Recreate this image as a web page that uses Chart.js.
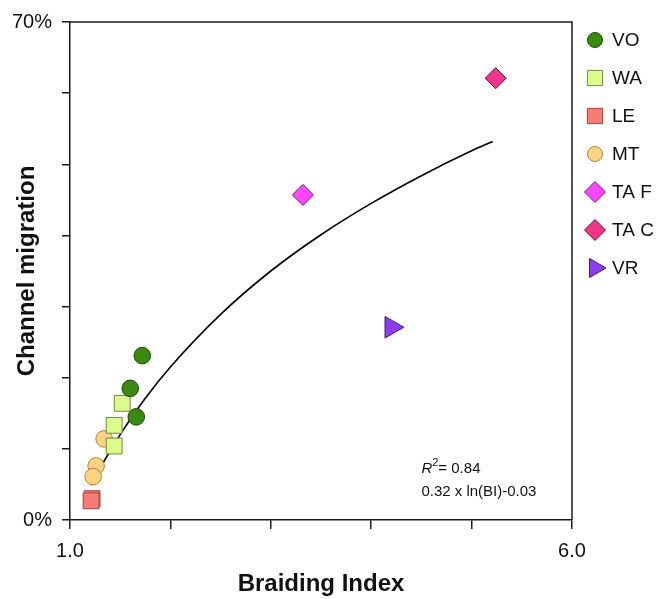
<!DOCTYPE html>
<html>
<head>
<meta charset="utf-8">
<script src="https://cdn.jsdelivr.net/npm/chart.js@4/dist/chart.umd.min.js"></script>
<style>
  html, body { margin: 0; padding: 0; background: #fff; }
  #wrap { width: 657px; height: 599px; }
</style>
</head>
<body>
<div id="wrap"><canvas id="chart" width="657" height="599"></canvas></div>
<script>
// Data (x = braiding index, y = channel migration in %)
const groups = ["VO", "WA", "LE", "MT", "TA F", "TA C", "VR"];

const voBI = [1.72, 1.60, 1.66];
const voMig = [23.1, 18.5, 14.5];
const waBI = [1.52, 1.44, 1.44];
const waMig = [16.4, 13.3, 10.4];
const leBI = [1.22, 1.21];
const leMig = [3.0, 2.7];
const mtBI = [1.34, 1.26, 1.23];
const mtMig = [11.4, 7.6, 6.1];
const tafBI = [3.32];
const tafMig = [45.7];
const tacBI = [5.24];
const tacMig = [62.1];
const vrBI = [4.2];
const vrMig = [27.1];

// fitted log curve as drawn on the reference
const trendBI = [1.21, 1.3, 1.4, 1.5, 1.75, 2.0, 2.5, 3.0, 3.5, 4.0, 4.5, 5.0, 5.21];
const trendMig = [4.9, 7.3, 9.7, 12.0, 17.1, 21.5, 28.9, 35.0, 40.1, 44.5, 48.4, 51.9, 53.2];

const xTickLabels = ["1.0", "6.0"];
const yTickLabels = ["0%", "70%"];
const fitR2 = "= 0.84";
const fitEquation = "0.32 x ln(BI)-0.03";

const FONT = "'Liberation Sans', Arial, Helvetica, sans-serif";

function pts(xs, ys) {
  return xs.map((x, i) => ({ x: x, y: ys[i] }));
}

const groupStyles = [
  { fill: "#3b8a10", border: "#1e4a06", style: "circle", r: 8.3, lr: 7.5, rot: 0 },
  { fill: "#dcfb8c", border: "#6d8a3c", style: "rect", r: 11.2, lr: 10.8, rot: 0 },
  { fill: "#f77c79", border: "#a84040", style: "rect", r: 11.2, lr: 10.8, rot: 0 },
  { fill: "#fdd281", border: "#a8843c", style: "circle", r: 8.3, lr: 7.5, rot: 0 },
  { fill: "#ff45ff", border: "#6e1c6e", style: "rectRot", r: 10.5, lr: 10.5, rot: 0 },
  { fill: "#f0358b", border: "#5e1030", style: "rectRot", r: 10.5, lr: 10.5, rot: 0 },
  { fill: "#8d3cf2", border: "#43187a", style: "triangle", r: 12.5, lr: 11, rot: 90 },
];

const groupData = [
  pts(voBI, voMig),
  pts(waBI, waMig),
  pts(leBI, leMig),
  pts(mtBI, mtMig),
  pts(tafBI, tafMig),
  pts(tacBI, tacMig),
  pts(vrBI, vrMig),
];

const datasets = groups.map((name, i) => ({
  label: name,
  data: groupData[i],
  backgroundColor: groupStyles[i].fill,
  borderColor: groupStyles[i].border,
  borderWidth: 1,
  pointStyle: groupStyles[i].style,
  pointRadius: groupStyles[i].r,
  pointHoverRadius: groupStyles[i].r,
  rotation: groupStyles[i].rot,
  order: 1,
}));

datasets.unshift({
  type: "line",
  label: "fit",
  data: pts(trendBI, trendMig),
  borderColor: "#000",
  borderWidth: 1.6,
  pointRadius: 0,
  fill: false,
  cubicInterpolationMode: "monotone",
  order: 2,
});

// frame around the plot (top and right sides)
const framePlugin = {
  id: "frame",
  beforeDatasetsDraw(chart) {
    const { ctx, chartArea: a } = chart;
    ctx.save();
    ctx.strokeStyle = "#1a1a1a";
    ctx.lineWidth = 1.5;
    ctx.beginPath();
    ctx.moveTo(a.left, a.top);
    ctx.lineTo(a.right, a.top);
    ctx.lineTo(a.right, a.bottom);
    ctx.stroke();
    ctx.restore();
  },
};

// legend on the right, one row per group
const legendPlugin = {
  id: "sideLegend",
  afterDraw(chart) {
    const { ctx, chartArea: a } = chart;
    ctx.save();
    groups.forEach((name, i) => {
      const s = groupStyles[i];
      const y = 40 + i * 38;
      const x = a.right + 23;
      ctx.fillStyle = s.fill;
      ctx.strokeStyle = s.border;
      ctx.lineWidth = 1;
      if (Chart.helpers && Chart.helpers.drawPoint) {
        Chart.helpers.drawPoint(ctx, { pointStyle: s.style, radius: s.lr, rotation: s.rot, borderWidth: 1 }, x, y);
      } else {
        ctx.beginPath();
        ctx.arc(x, y, s.lr, 0, Math.PI * 2);
        ctx.fill();
        ctx.stroke();
      }
      ctx.fillStyle = "#111";
      ctx.font = "19px " + FONT;
      ctx.textBaseline = "middle";
      ctx.textAlign = "left";
      ctx.fillText(name, a.right + 40, y + 1);
    });
    ctx.restore();
  },
};

// R^2 and equation text
const fitTextPlugin = {
  id: "fitText",
  afterDraw(chart) {
    const { ctx } = chart;
    const x = chart.scales.x.getPixelForValue(4.5);
    const y = chart.scales.y.getPixelForValue(6.6);
    ctx.save();
    ctx.fillStyle = "#111";
    ctx.textBaseline = "alphabetic";
    ctx.textAlign = "left";
    ctx.font = "italic 15px " + FONT;
    ctx.fillText("R", x, y);
    let w = ctx.measureText("R").width;
    ctx.font = "11px " + FONT;
    ctx.fillText("2", x + w, y - 7);
    w += ctx.measureText("2").width;
    ctx.font = "15px " + FONT;
    ctx.fillText(fitR2, x + w, y);
    ctx.fillText(fitEquation, x, y + 23);
    ctx.restore();
  },
};

new Chart(document.getElementById("chart"), {
  type: "scatter",
  data: { datasets: datasets },
  options: {
    responsive: false,
    devicePixelRatio: 1,
    animation: false,
    layout: { padding: { left: 0, right: 85, top: 20, bottom: 0 } },
    plugins: {
      legend: { display: false },
      tooltip: { enabled: false },
    },
    scales: {
      x: {
        type: "linear",
        min: 1,
        max: 6,
        afterFit: (scale) => { scale.height = 79; },
        ticks: {
          stepSize: 1,
          color: "#111",
          padding: 10,
          maxRotation: 0,
          font: { size: 20, family: FONT },
          callback: (v) => (v === 1 ? xTickLabels[0] : v === 6 ? xTickLabels[1] : ""),
        },
        grid: { drawOnChartArea: false, drawTicks: true, tickLength: 9, color: "#1a1a1a", lineWidth: 1.5 },
        border: { display: true, color: "#1a1a1a", width: 1.5 },
        title: {
          display: true,
          text: "Braiding Index",
          color: "#111",
          font: { size: 24, weight: "bold", family: FONT },
          padding: { top: 0, bottom: 0 },
        },
      },
      y: {
        type: "linear",
        min: 0,
        max: 70,
        afterFit: (scale) => { scale.width = 70; },
        ticks: {
          stepSize: 10,
          color: "#111",
          padding: 10,
          font: { size: 20, family: FONT },
          callback: (v) => (v === 0 ? yTickLabels[0] : v === 70 ? yTickLabels[1] : ""),
        },
        grid: { drawOnChartArea: false, drawTicks: true, tickLength: 8, color: "#1a1a1a", lineWidth: 1.5 },
        border: { display: true, color: "#1a1a1a", width: 1.5 },
        title: {
          display: true,
          text: "Channel migration",
          color: "#111",
          font: { size: 24, weight: "bold", family: FONT },
          padding: { top: 13, bottom: 0 },
        },
      },
    },
  },
  plugins: [framePlugin, legendPlugin, fitTextPlugin],
});
</script>
</body>
</html>
